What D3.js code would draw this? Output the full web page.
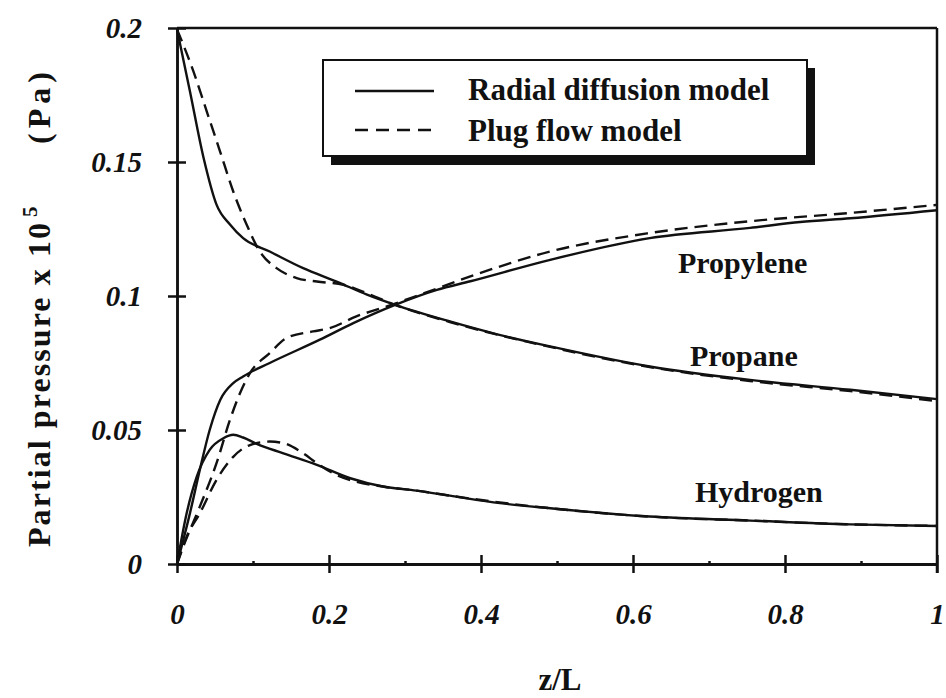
<!DOCTYPE html>
<html>
<head>
<meta charset="utf-8">
<script src="https://cdn.jsdelivr.net/npm/d3@7"></script>
<style>
  body { margin: 0; background: #fff; }
  svg { display: block; }
</style>
</head>
<body>
<svg id="chart" width="946" height="698"></svg>
<script>
// Axial position z/L and partial pressures (x 10^5 Pa) for each species and model
const zPropaneRD = [0, 0.017, 0.035, 0.052, 0.070, 0.087, 0.122, 0.166, 0.210, 0.250, 0.287, 0.359, 0.420, 0.491, 0.622, 0.754, 0.886, 1.0];
const pPropaneRD = [0.1995, 0.1764, 0.1515, 0.1341, 0.1266, 0.1216, 0.1166, 0.1104, 0.1054, 0.1005, 0.0967, 0.0905, 0.0858, 0.0812, 0.0737, 0.0687, 0.0650, 0.0615];

const zPropanePF = [0, 0.0215, 0.039, 0.0566, 0.074, 0.0917, 0.109, 0.131, 0.1575, 0.184, 0.219, 0.250, 0.287, 0.359, 0.491, 0.622, 0.754, 0.886, 1.0];
const pPropanePF = [0.1995, 0.1839, 0.1690, 0.1540, 0.1390, 0.1266, 0.1166, 0.1104, 0.1067, 0.1054, 0.1042, 0.1010, 0.0967, 0.0903, 0.0810, 0.0735, 0.0683, 0.0645, 0.0608];

const zPropyleneRD = [0, 0.017, 0.030, 0.043, 0.057, 0.074, 0.087, 0.122, 0.188, 0.232, 0.287, 0.342, 0.386, 0.491, 0.622, 0.754, 0.820, 0.886, 1.0];
const pPropyleneRD = [0, 0.0189, 0.0351, 0.0500, 0.0613, 0.0675, 0.0700, 0.0750, 0.0837, 0.0899, 0.0967, 0.1023, 0.1055, 0.1135, 0.1216, 0.1254, 0.1276, 0.1290, 0.1320];

const zPropylenePF = [0, 0.0083, 0.030, 0.052, 0.0697, 0.083, 0.096, 0.122, 0.144, 0.179, 0.201, 0.236, 0.276, 0.320, 0.386, 0.491, 0.622, 0.754, 0.886, 1.0];
const pPropylenePF = [0, 0.0065, 0.0214, 0.0376, 0.0538, 0.0638, 0.0712, 0.0787, 0.0843, 0.0868, 0.0880, 0.0924, 0.0961, 0.1005, 0.1073, 0.1166, 0.1235, 0.1279, 0.1310, 0.1340];

const zHydrogenRD = [0, 0.0127, 0.026, 0.043, 0.061, 0.074, 0.087, 0.105, 0.140, 0.184, 0.228, 0.271, 0.315, 0.359, 0.425, 0.491, 0.622, 0.754, 0.886, 1.0];
const pHydrogenRD = [0, 0.0189, 0.0326, 0.0426, 0.0469, 0.0482, 0.0472, 0.0448, 0.0413, 0.0370, 0.0320, 0.0289, 0.0274, 0.0255, 0.0227, 0.0208, 0.0177, 0.0162, 0.0148, 0.0142];

const zHydrogenPF = [0, 0.0127, 0.030, 0.052, 0.074, 0.096, 0.122, 0.140, 0.166, 0.184, 0.210, 0.236, 0.271, 0.315, 0.359, 0.491, 0.622, 0.754, 0.886, 1.0];
const pHydrogenPF = [0, 0.0102, 0.0189, 0.0314, 0.0400, 0.0444, 0.0457, 0.0451, 0.0413, 0.0376, 0.0332, 0.0307, 0.0289, 0.0274, 0.0255, 0.0208, 0.0177, 0.0162, 0.0148, 0.0142];

const xMajorTicks = [0, 0.2, 0.4, 0.6, 0.8, 1];
const xMinorTicks = [0.1, 0.3, 0.5, 0.7, 0.9];
const xTickLabels = ["0", "0.2", "0.4", "0.6", "0.8", "1"];
const yTicks = [0, 0.05, 0.1, 0.15, 0.2];
const yTickLabels = ["0", "0.05", "0.1", "0.15", "0.2"];

const speciesNames = ["Propylene", "Propane", "Hydrogen"];
const modelNames = ["Radial diffusion model", "Plug flow model"];

// Use the first installed Times-like face; fall back to a plain serif stack.
function pickSerif() {
  const ctx = document.createElement("canvas").getContext("2d");
  const sample = "Radial diffusion 0.123456789 WMmwil";
  const cands = ["Liberation Serif", "Tinos", "Times New Roman", "Nimbus Roman", "Nimbus Roman No9 L",
                 "FreeSerif", "DejaVu Serif", "Noto Serif", "Times", "Georgia", "STIX Two Text", "Noto Serif CJK SC"];
  const width = f => { ctx.font = "bold 40px " + f; return ctx.measureText(sample).width; };
  const wMono = width("monospace"), wSans = width("sans-serif");
  for (const c of cands) {
    if (width(`"${c}", monospace`) !== wMono && width(`"${c}", sans-serif`) !== wSans) return `"${c}", serif`;
  }
  return "serif";
}
const FONT = pickSerif();

const svg = d3.select("#chart");
const x = d3.scaleLinear().domain([0, 1]).range([177, 937]);
const y = d3.scaleLinear().domain([0, 0.2]).range([564, 28]);

const AXIS_W = 2.5;
const styleText = (sel, size, italic) => sel
  .style("font-family", FONT).style("font-weight", "bold")
  .style("font-style", italic ? "italic" : "normal")
  .style("font-size", size + "px").attr("fill", "#111");

// bottom axis: labelled major ticks crossing the line, short minor ticks inside
const xAxisOut = svg.append("g").attr("transform", `translate(0,${y(0)})`)
  .call(d3.axisBottom(x).tickValues(xMajorTicks).tickSize(9).tickSizeOuter(0)
    .tickPadding(30).tickFormat((d, i) => xTickLabels[i]));
styleText(xAxisOut.selectAll("text"), 29, true);
svg.append("g").attr("transform", `translate(0,${y(0)})`)
  .call(d3.axisTop(x).tickValues(xMajorTicks).tickSize(9).tickSizeOuter(0).tickFormat(""));
svg.append("g").attr("transform", `translate(0,${y(0)})`)
  .call(d3.axisTop(x).tickValues(xMinorTicks).tickSize(3).tickSizeOuter(0).tickFormat(""));

// left axis with ticks crossing the line
const yAxisOut = svg.append("g").attr("transform", `translate(${x(0)},0)`)
  .call(d3.axisLeft(y).tickValues(yTicks).tickSize(9).tickSizeOuter(0)
    .tickPadding(26).tickFormat((d, i) => yTickLabels[i]));
styleText(yAxisOut.selectAll("text"), 29, true);
svg.append("g").attr("transform", `translate(${x(0)},0)`)
  .call(d3.axisRight(y).tickValues(yTicks).tickSize(9).tickSizeOuter(0).tickFormat(""));

// frame: top and right borders
svg.append("line").attr("x1", x(0)).attr("x2", x(1)).attr("y1", y(0.2)).attr("y2", y(0.2));
svg.append("line").attr("x1", x(1)).attr("x2", x(1)).attr("y1", y(0.2)).attr("y2", y(0) + 9);

svg.selectAll("g path.domain, g .tick line, line")
  .attr("stroke", "#111").attr("stroke-width", AXIS_W);

// curves
const line = d3.line().x(d => x(d[0])).y(d => y(d[1])).curve(d3.curveMonotoneX);
const zip = (zs, ps) => zs.map((z, i) => [z, ps[i]]);
const series = [
  { pts: zip(zPropaneRD, pPropaneRD), dash: null },
  { pts: zip(zPropyleneRD, pPropyleneRD), dash: null },
  { pts: zip(zHydrogenRD, pHydrogenRD), dash: null },
  { pts: zip(zPropanePF, pPropanePF), dash: "13,7" },
  { pts: zip(zPropylenePF, pPropylenePF), dash: "13,7" },
  { pts: zip(zHydrogenPF, pHydrogenPF), dash: "13,7" }
];
svg.append("g").selectAll("path").data(series).join("path")
  .attr("d", d => line(d.pts))
  .attr("fill", "none").attr("stroke", "#111").attr("stroke-width", 2.4)
  .attr("stroke-dasharray", d => d.dash);

// species labels
const speciesPos = [[678, 273], [690, 366], [695, 502]];
styleText(svg.append("g").selectAll("text").data(speciesNames).join("text")
  .attr("x", (d, i) => speciesPos[i][0]).attr("y", (d, i) => speciesPos[i][1])
  .text(d => d), 30, false);

// legend with drop shadow
const lg = svg.append("g");
lg.append("rect").attr("x", 331).attr("y", 68).attr("width", 484).attr("height", 97).attr("fill", "#111");
lg.append("rect").attr("x", 323).attr("y", 60).attr("width", 484).attr("height", 96)
  .attr("fill", "#fff").attr("stroke", "#111").attr("stroke-width", 2);
const lgRows = [{ ly: 91, ty: 100, dash: null }, { ly: 130, ty: 141, dash: "13,8" }];
lgRows.forEach((r, i) => {
  lg.append("line").attr("x1", 355).attr("x2", 434).attr("y1", r.ly).attr("y2", r.ly)
    .attr("stroke", "#111").attr("stroke-width", 2.4).attr("stroke-dasharray", r.dash);
  styleText(lg.append("text").attr("x", 468).attr("y", r.ty).text(modelNames[i]), 31, false);
});

// axis titles
styleText(svg.append("text").attr("x", 560).attr("y", 690).attr("text-anchor", "middle").text("z/L"), 31, false);

const yt = svg.append("g").attr("transform", "translate(50,547) rotate(-90)");
styleText(yt.append("text").attr("x", 0).attr("y", 0)
  .attr("textLength", 324).attr("lengthAdjust", "spacing").text("Partial pressure x 10"), 32, false);
styleText(yt.append("text").attr("x", 330).attr("y", -13).text("5"), 21, false);
styleText(yt.append("text").attr("x", 403).attr("y", 0)
  .attr("textLength", 72).attr("lengthAdjust", "spacing").text("(Pa)"), 32, false);
</script>
</body>
</html>
